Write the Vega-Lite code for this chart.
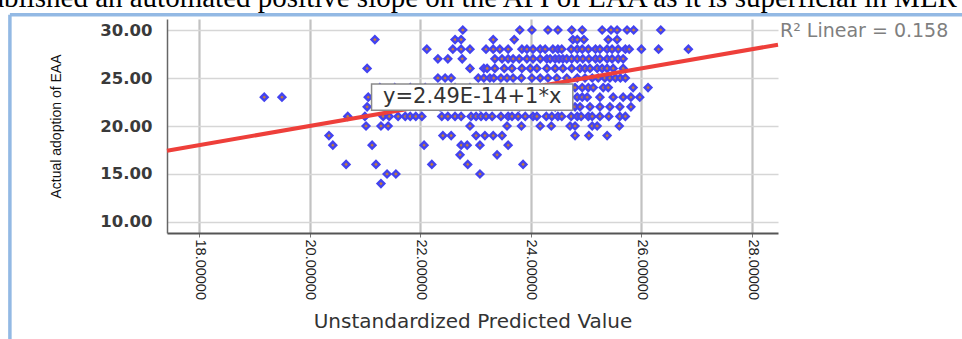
{
"$schema": "https://vega.github.io/schema/vega-lite/v6.json",
"width": 611, "height": 214,
"autosize": {"type": "none"},
"padding": {"left": 167, "top": 19, "right": 184, "bottom": 106},
"background": "white",
"config": {"view": {"stroke": null}},
"datasets": {
"points": [
{"p":22.77,"a":30},{"p":23.80,"a":30},{"p":24.02,"a":30},{"p":24.31,"a":30},{"p":24.49,"a":30},{"p":24.74,"a":30},{"p":24.93,"a":30},{"p":25.29,"a":30},{"p":25.45,"a":30},{"p":25.56,"a":30},{"p":25.74,"a":30},{"p":25.86,"a":30},{"p":26.35,"a":30},
{"p":21.18,"a":29},{"p":22.63,"a":29},{"p":22.74,"a":29},{"p":23.32,"a":29},{"p":23.70,"a":29},{"p":24.76,"a":29},{"p":24.84,"a":29},{"p":24.96,"a":29},{"p":25.40,"a":29},{"p":25.56,"a":29},
{"p":22.12,"a":28},{"p":22.59,"a":28},{"p":22.74,"a":28},{"p":22.90,"a":28},{"p":23.19,"a":28},{"p":23.32,"a":28},{"p":23.44,"a":28},{"p":23.59,"a":28},{"p":23.84,"a":28},{"p":23.93,"a":28},{"p":24.04,"a":28},{"p":24.17,"a":28},{"p":24.26,"a":28},{"p":24.40,"a":28},{"p":24.49,"a":28},{"p":24.56,"a":28},{"p":24.73,"a":28},{"p":24.84,"a":28},{"p":24.93,"a":28},{"p":25.04,"a":28},{"p":25.17,"a":28},{"p":25.25,"a":28},{"p":25.38,"a":28},{"p":25.47,"a":28},{"p":25.58,"a":28},{"p":25.71,"a":28},{"p":25.78,"a":28},{"p":26.00,"a":28},{"p":26.31,"a":28},{"p":26.85,"a":28},
{"p":22.32,"a":27},{"p":22.50,"a":27},{"p":22.76,"a":27},{"p":23.35,"a":27},{"p":23.48,"a":27},{"p":23.59,"a":27},{"p":23.68,"a":27},{"p":23.79,"a":27},{"p":23.93,"a":27},{"p":24.04,"a":27},{"p":24.17,"a":27},{"p":24.29,"a":27},{"p":24.35,"a":27},{"p":24.44,"a":27},{"p":24.51,"a":27},{"p":24.58,"a":27},{"p":24.65,"a":27},{"p":24.74,"a":27},{"p":24.84,"a":27},{"p":24.94,"a":27},{"p":25.05,"a":27},{"p":25.17,"a":27},{"p":25.25,"a":27},{"p":25.38,"a":27},{"p":25.47,"a":27},{"p":25.58,"a":27},{"p":25.67,"a":27},
{"p":21.04,"a":26},{"p":22.90,"a":26},{"p":23.15,"a":26},{"p":23.21,"a":26},{"p":23.35,"a":26},{"p":23.52,"a":26},{"p":23.66,"a":26},{"p":23.84,"a":26},{"p":23.99,"a":26},{"p":24.11,"a":26},{"p":24.29,"a":26},{"p":24.44,"a":26},{"p":24.58,"a":26},{"p":24.74,"a":26},{"p":24.89,"a":26},{"p":24.98,"a":26},{"p":25.07,"a":26},{"p":25.20,"a":26},{"p":25.29,"a":26},{"p":25.38,"a":26},{"p":25.49,"a":26},{"p":25.67,"a":26},
{"p":22.32,"a":25},{"p":22.45,"a":25},{"p":22.56,"a":25},{"p":23.05,"a":25},{"p":23.15,"a":25},{"p":23.26,"a":25},{"p":23.33,"a":25},{"p":23.46,"a":25},{"p":23.57,"a":25},{"p":23.68,"a":25},{"p":23.83,"a":25},{"p":24.02,"a":25},{"p":24.17,"a":25},{"p":24.31,"a":25},{"p":24.47,"a":25},{"p":24.65,"a":25},{"p":24.84,"a":25},{"p":24.98,"a":25},{"p":25.11,"a":25},{"p":25.22,"a":25},{"p":25.34,"a":25},{"p":25.43,"a":25},{"p":25.53,"a":25},{"p":25.62,"a":25},{"p":25.71,"a":25},
{"p":21.27,"a":24},{"p":21.54,"a":24},{"p":21.82,"a":24},{"p":22.09,"a":24},{"p":22.36,"a":24},{"p":22.63,"a":24},{"p":22.90,"a":24},{"p":23.17,"a":24},{"p":23.44,"a":24},{"p":23.71,"a":24},{"p":23.98,"a":24},{"p":24.26,"a":24},{"p":24.53,"a":24},{"p":24.80,"a":24},{"p":24.93,"a":24},{"p":25.04,"a":24},{"p":25.13,"a":24},{"p":25.31,"a":24},{"p":25.40,"a":24},{"p":25.85,"a":24},{"p":26.12,"a":24},
{"p":19.18,"a":23},{"p":19.50,"a":23},{"p":21.06,"a":23},{"p":22.00,"a":23},{"p":22.72,"a":23},{"p":23.44,"a":23},{"p":24.17,"a":23},{"p":24.84,"a":23},{"p":24.93,"a":23},{"p":25.02,"a":23},{"p":25.25,"a":23},{"p":25.49,"a":23},{"p":25.67,"a":23},{"p":25.81,"a":23},{"p":25.97,"a":23},
{"p":21.04,"a":22},{"p":21.63,"a":22},{"p":22.36,"a":22},{"p":23.08,"a":22},{"p":23.80,"a":22},{"p":24.44,"a":22},{"p":24.80,"a":22},{"p":24.89,"a":22},{"p":25.07,"a":22},{"p":25.25,"a":22},{"p":25.43,"a":22},{"p":25.61,"a":22},{"p":25.81,"a":22},
{"p":20.69,"a":21},{"p":21.00,"a":21},{"p":21.33,"a":21},{"p":21.44,"a":21},{"p":21.60,"a":21},{"p":21.73,"a":21},{"p":21.82,"a":21},{"p":21.92,"a":21},{"p":22.03,"a":21},{"p":22.39,"a":21},{"p":22.50,"a":21},{"p":22.63,"a":21},{"p":22.74,"a":21},{"p":22.92,"a":21},{"p":23.01,"a":21},{"p":23.10,"a":21},{"p":23.19,"a":21},{"p":23.30,"a":21},{"p":23.46,"a":21},{"p":23.59,"a":21},{"p":23.66,"a":21},{"p":23.77,"a":21},{"p":23.90,"a":21},{"p":24.04,"a":21},{"p":24.11,"a":21},{"p":24.28,"a":21},{"p":24.38,"a":21},{"p":24.49,"a":21},{"p":24.56,"a":21},{"p":24.73,"a":21},{"p":24.84,"a":21},{"p":24.91,"a":21},{"p":25.04,"a":21},{"p":25.11,"a":21},{"p":25.25,"a":21},{"p":25.41,"a":21},{"p":25.61,"a":21},{"p":25.71,"a":21},
{"p":21.02,"a":20},{"p":21.29,"a":20},{"p":21.42,"a":20},{"p":22.90,"a":20},{"p":23.57,"a":20},{"p":23.83,"a":20},{"p":24.17,"a":20},{"p":24.37,"a":20},{"p":24.71,"a":20},{"p":24.80,"a":20},{"p":25.11,"a":20},{"p":25.20,"a":20},{"p":25.60,"a":20},
{"p":20.35,"a":19},{"p":22.41,"a":19},{"p":22.56,"a":19},{"p":23.01,"a":19},{"p":23.17,"a":19},{"p":23.32,"a":19},{"p":23.48,"a":19},{"p":24.80,"a":19},{"p":25.05,"a":19},{"p":25.38,"a":19},
{"p":20.42,"a":18},{"p":21.13,"a":18},{"p":22.07,"a":18},{"p":22.74,"a":18},{"p":22.85,"a":18},{"p":23.08,"a":18},{"p":23.59,"a":18},
{"p":22.72,"a":17},{"p":23.39,"a":17},
{"p":20.66,"a":16},{"p":21.20,"a":16},{"p":22.21,"a":16},{"p":22.86,"a":16},{"p":23.86,"a":16},
{"p":21.40,"a":15},{"p":21.56,"a":15},{"p":23.08,"a":15},
{"p":21.29,"a":14}
],
"fit": [{"p": 17.421, "a": 17.421}, {"p": 28.47, "a": 28.47}],
"one": [{}]
},
"layer": [
{
"data": {"name": "points"},
"mark": {"type": "point", "shape": "diamond", "filled": true, "size": 46, "fill": "#c47c3a", "fillOpacity": 1, "stroke": "#4343f0", "strokeWidth": 2.4, "opacity": 1},
"encoding": {
"x": {"field": "p", "type": "quantitative", "scale": {"domain": [17.421, 28.47], "nice": false, "zero": false},
 "axis": {"title": "Unstandardized Predicted Value", "values": [18, 20, 22, 24, 26, 28], "format": ".5f", "labelAngle": 90, "labelFont": "Liberation Sans", "labelFontSize": 14.5, "labelColor": "#1e1e1e", "labelPadding": 2, "ticks": true, "tickSize": 4, "tickColor": "#777777", "domainColor": "#555555", "domainWidth": 2, "grid": true, "gridColor": "#c2c2c2", "gridWidth": 2.2, "titleFont": "DejaVu Sans", "titleFontSize": 20, "titleFontWeight": "normal", "titleColor": "#333333", "titlePadding": 12}},
"y": {"field": "a", "type": "quantitative", "scale": {"domain": [8.854, 31.146], "nice": false, "zero": false},
 "axis": {"title": "Actual adoption of EAA", "values": [10, 15, 20, 25, 30], "format": ".2f", "labelFont": "DejaVu Sans", "labelFontSize": 16.5, "labelFontWeight": "bold", "labelColor": "#3a3a3a", "labelPadding": 15, "ticks": false, "domainColor": "#666666", "domainWidth": 1.5, "grid": true, "gridColor": "#d6d6d6", "gridWidth": 1.5, "titleFont": "Liberation Sans", "titleFontSize": 14, "titleFontWeight": "normal", "titleColor": "#111111", "titlePadding": 36}}
}
},
{
"data": {"name": "one"},
"mark": {"type": "rule", "color": "#93b9e4", "strokeWidth": 3.5},
"encoding": {
"x": {"datum": 14.58, "type": "quantitative"},
"y": {"datum": 31.6, "type": "quantitative"},
"y2": {"datum": -5}
}
},
{
"data": {"name": "one"},
"mark": {"type": "rule", "color": "#93b9e4", "strokeWidth": 3.5},
"encoding": {
"x": {"datum": 14.58, "type": "quantitative"},
"x2": {"datum": 33},
"y": {"datum": 31.6, "type": "quantitative"}
}
},
{
"data": {"name": "one"},
"mark": {"type": "text", "text": "established an automated positive slope on the API of EAA as it is superficial in MLR", "font": "Liberation Serif", "fontSize": 29, "color": "#000000", "align": "left", "baseline": "alphabetic"},
"encoding": {
"x": {"datum": 13.66, "type": "quantitative"},
"y": {"datum": 32.396, "type": "quantitative"}
}
},
{
"data": {"name": "fit"},
"mark": {"type": "line", "color": "#ee3f3a", "strokeWidth": 4},
"encoding": {
"x": {"field": "p", "type": "quantitative"},
"y": {"field": "a", "type": "quantitative"}
}
},
{
"data": {"name": "one"},
"mark": {"type": "rect", "fill": "#b8b8b8", "xOffset": 2, "yOffset": 2},
"encoding": {
"x": {"datum": 21.12, "type": "quantitative"},
"x2": {"datum": 24.76},
"y": {"datum": 24.375, "type": "quantitative"},
"y2": {"datum": 21.65}
}
},
{
"data": {"name": "one"},
"mark": {"type": "rect", "fill": "#ffffff", "stroke": "#8a8a8a", "strokeWidth": 1.5},
"encoding": {
"x": {"datum": 21.12, "type": "quantitative"},
"x2": {"datum": 24.76},
"y": {"datum": 24.375, "type": "quantitative"},
"y2": {"datum": 21.65}
}
},
{
"data": {"name": "one"},
"mark": {"type": "text", "text": "y=2.49E-14+1*x", "font": "DejaVu Sans", "fontSize": 21, "color": "#333333", "align": "center", "baseline": "middle"},
"encoding": {
"x": {"datum": 22.94, "type": "quantitative"},
"y": {"datum": 22.97, "type": "quantitative"}
}
},
{
"data": {"name": "one"},
"mark": {"type": "text", "text": "R² Linear = 0.158", "font": "DejaVu Sans", "fontSize": 19, "color": "#7f7f7f", "align": "left", "baseline": "middle", "dx": 2},
"encoding": {
"x": {"datum": 28.47, "type": "quantitative"},
"y": {"datum": 29.93, "type": "quantitative"}
}
}
]
}
